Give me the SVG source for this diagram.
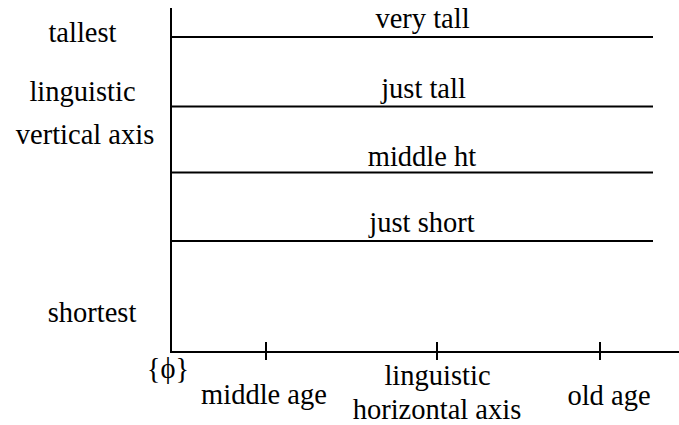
<svg xmlns="http://www.w3.org/2000/svg" width="679" height="425" viewBox="0 0 679 425">
<style>
text{font-family:"Liberation Serif","Times New Roman",serif;font-size:28.5px;fill:#000;text-anchor:middle}
.ln{stroke:#000;stroke-width:2;fill:none}
</style>
<rect width="679" height="425" fill="#fff"/>
<g id="connectors">
<line class="ln" x1="171" y1="8" x2="171" y2="352"/>
<line class="ln" x1="170" y1="352" x2="679" y2="352"/>
<line class="ln" x1="171" y1="37" x2="653" y2="37"/>
<line class="ln" x1="170" y1="106.5" x2="653" y2="106.5"/>
<line class="ln" x1="171" y1="172.5" x2="653" y2="172.5"/>
<line class="ln" x1="171" y1="241" x2="653" y2="241"/>
<line class="ln" x1="266" y1="342" x2="266" y2="360"/>
<line class="ln" x1="437" y1="342" x2="437" y2="360"/>
<line class="ln" x1="600" y1="342" x2="600" y2="360"/>
</g>
<g id="vertical-labels">
<text x="82.5" y="42">tallest</text>
<text x="82.5" y="100.5">linguistic</text>
<text x="85" y="144">vertical axis</text>
<text x="92" y="322">shortest</text>
</g>
<g id="level-labels">
<text x="422.5" y="28">very tall</text>
<text x="423.5" y="98">just tall</text>
<text x="422" y="165.5">middle ht</text>
<text x="422" y="231.5">just short</text>
</g>
<g id="horizontal-labels">
<text x="168" y="378">{ϕ}</text>
<text x="264" y="404">middle age</text>
<text x="437.5" y="385">linguistic</text>
<text x="437" y="419">horizontal axis</text>
<text x="609" y="405">old age</text>
</g>
</svg>
